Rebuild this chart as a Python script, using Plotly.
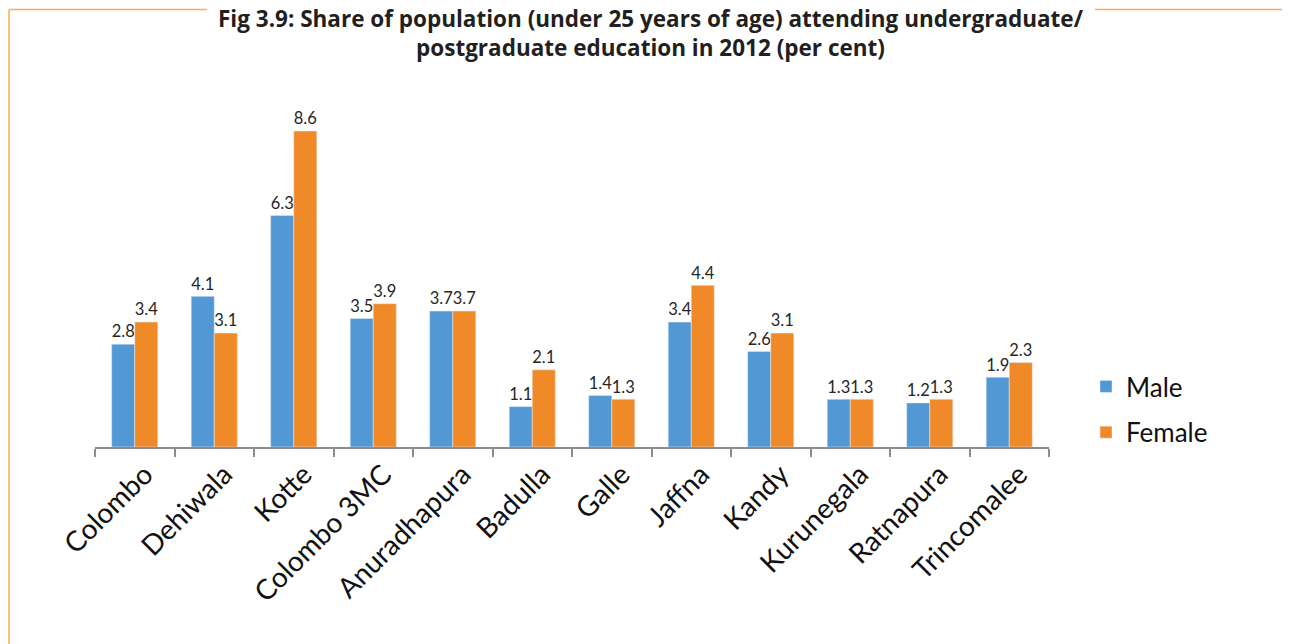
import plotly.graph_objects as go

categories = ["Colombo", "Dehiwala", "Kotte", "Colombo 3MC", "Anuradhapura", "Badulla",
              "Galle", "Jaffna", "Kandy", "Kurunegala", "Ratnapura", "Trincomalee"]
male = [2.8, 4.1, 6.3, 3.5, 3.7, 1.1, 1.4, 3.4, 2.6, 1.3, 1.2, 1.9]
female = [3.4, 3.1, 8.6, 3.9, 3.7, 2.1, 1.3, 4.4, 3.1, 1.3, 1.3, 2.3]
title_text = ("Fig 3.9: Share of population (under 25 years of age) attending undergraduate/"
              "<br>postgraduate education in 2012 (per cent)")

W, H = 1290, 644
OFF = 8  # page body margin
L, R, T, B = 95 - OFF, 1049 - OFF, 100 - OFF, 447 - OFF

def px(x):
    return (x - OFF - L) / (R - L)

def py(y):
    return (B - (y - OFF)) / (B - T)

label_font = dict(family="Lato, Open Sans, sans-serif", size=18, color="#262626")

fig = go.Figure()
fig.add_trace(go.Bar(name="Male", x=categories, y=male, marker_color="#5198D5",
                     text=[f"{v:.1f}" for v in male], textposition="outside",
                     textfont=label_font, cliponaxis=False, legendgroup="m"))
fig.add_trace(go.Bar(name="Female", x=categories, y=female, marker_color="#F08A28",
                     text=[f"{v:.1f}" for v in female], textposition="outside",
                     textfont=label_font, cliponaxis=False, legendgroup="f"))

border = "#F6AE5C"
shapes = [
    dict(type="line", xref="paper", yref="paper", x0=px(9), x1=px(207), y0=py(9.5), y1=py(9.5),
         line=dict(color=border, width=1.5)),
    dict(type="line", xref="paper", yref="paper", x0=px(1095), x1=px(1288), y0=py(9.5), y1=py(9.5),
         line=dict(color=border, width=1.5)),
    dict(type="line", xref="paper", yref="paper", x0=px(9), x1=px(9), y0=py(9.5), y1=py(660),
         line=dict(color=border, width=1.5)),
    dict(type="line", xref="paper", yref="paper", x0=px(1288), x1=px(1288), y0=py(9.5), y1=py(660),
         line=dict(color=border, width=1.5)),
]

fig.add_annotation(text=title_text, xref="paper", yref="paper", x=px(651), y=py(33),
                   xanchor="center", yanchor="middle", showarrow=False, align="center",
                   font=dict(family="Open Sans, sans-serif", size=22.5, color="#231F20", weight="bold"))

fig.update_layout(
    width=W, height=H,
    margin=dict(l=L, r=W - R, t=T, b=H - B, autoexpand=False),
    paper_bgcolor="white", plot_bgcolor="white",
    barmode="group", bargap=0.42, bargroupgap=0,
    xaxis=dict(showline=True, linecolor="#8C8C8C", linewidth=2, ticks="outside",
               tickson="boundaries", ticklen=8, tickcolor="#8C8C8C", tickwidth=2,
               tickangle=-45, ticklabelshift=10, ticklabelstandoff=-2,
               tickfont=dict(family="Lato, Open Sans, sans-serif", size=28, color="#111111"),
               showgrid=False),
    yaxis=dict(range=[0, (B - T) / 36.74], visible=False, showgrid=False, zeroline=False),
    legend=dict(x=px(1086), xanchor="left", y=py(363), yanchor="top",
                font=dict(family="Lato, Open Sans, sans-serif", size=26, color="#111111"),
                traceorder="grouped", tracegroupgap=9, bgcolor="rgba(0,0,0,0)"),
    shapes=shapes,
    showlegend=True,
)

fig.write_html("out.html")
